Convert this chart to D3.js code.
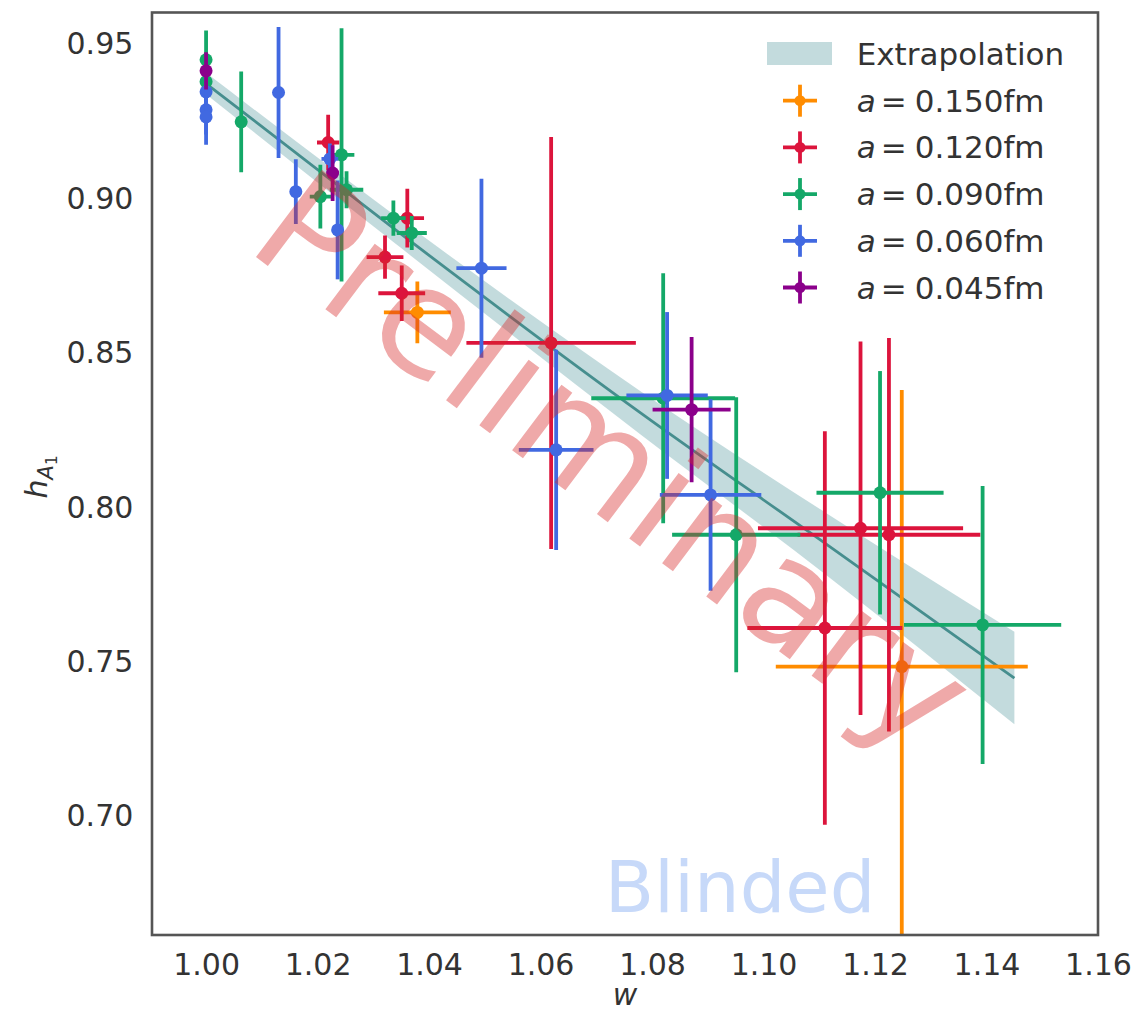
<!DOCTYPE html>
<html>
<head>
<meta charset="utf-8">
<script src="https://cdn.jsdelivr.net/npm/d3@7"></script>
<style>
  html, body { margin: 0; padding: 0; background: #fff; }
  svg { display: block; font-family: "DejaVu Sans", sans-serif; }
</style>
</head>
<body>
<svg id="chart" width="1140" height="1017"></svg>
<script>
// ---------------- data ----------------
const xTicks = [1.00, 1.02, 1.04, 1.06, 1.08, 1.10, 1.12, 1.14, 1.16];
const yTicks = [0.70, 0.75, 0.80, 0.85, 0.90, 0.95];

// continuum extrapolation: central curve and its uncertainty band
const fitW    = [1.000, 1.034, 1.078, 1.111, 1.145];
const fitMid  = [0.9368, 0.8894, 0.8301, 0.7880, 0.7443];
const fitLow  = [0.9333, 0.8849, 0.8231, 0.7780, 0.7293];
const fitHigh = [0.9403, 0.8939, 0.8371, 0.7980, 0.7593];

const spacingLabels = ["0.150", "0.120", "0.090", "0.060", "0.045"];

// a = 0.150 fm
const w150  = [1.0379, 1.1248];
const h150  = [0.8627, 0.7480];
const dw150 = [0.0060, 0.0226];
const dh150 = [0.0100, 0.0896];

// a = 0.120 fm
const w120  = [1.0219, 1.0361, 1.0321, 1.0351, 1.0619, 1.1110, 1.1174, 1.1225];
const h120  = [0.9177, 0.8932, 0.8806, 0.8689, 0.8528, 0.7605, 0.7928, 0.7907];
const dw120 = [0.0020, 0.0030, 0.0033, 0.0042, 0.0152, 0.0139, 0.0184, 0.0164];
const dh120 = [0.0090, 0.0095, 0.0070, 0.0090, 0.0667, 0.0637, 0.0605, 0.0637];

// a = 0.090 fm
const w090  = [1.0000, 1.0000, 1.0063, 1.0205, 1.0243, 1.0252, 1.0336, 1.0369, 1.0820, 1.0951, 1.1209, 1.1393];
const h090  = [0.9445, 0.9374, 0.9244, 0.9002, 0.9137, 0.9024, 0.8932, 0.8884, 0.8349, 0.7907, 0.8043, 0.7615];
const dw090 = [0.0000, 0.0000, 0.0000, 0.0019, 0.0023, 0.0030, 0.0022, 0.0027, 0.0129, 0.0115, 0.0114, 0.0141];
const dh090 = [0.0095, 0.0070, 0.0163, 0.0103, 0.0410, 0.0060, 0.0057, 0.0055, 0.0405, 0.0445, 0.0394, 0.0450];

// a = 0.060 fm
const w060  = [1.0000, 1.0000, 1.0000, 1.0130, 1.0161, 1.0222, 1.0236, 1.0494, 1.0628, 1.0827, 1.0905];
const h060  = [0.9341, 0.9283, 0.9260, 0.9339, 0.9018, 0.9124, 0.8894, 0.8770, 0.8182, 0.8358, 0.8036];
const dw060 = [0.0000, 0.0000, 0.0000, 0.0000, 0.0000, 0.0015, 0.0000, 0.0045, 0.0067, 0.0073, 0.0091];
const dh060 = [0.0070, 0.0080, 0.0090, 0.0212, 0.0105, 0.0050, 0.0160, 0.0290, 0.0324, 0.0270, 0.0310];

// a = 0.045 fm
const w045  = [1.0000, 1.0227, 1.0871];
const h045  = [0.9409, 0.9078, 0.8312];
const dw045 = [0.0000, 0.0000, 0.0070];
const dh045 = [0.0060, 0.0090, 0.0235];

// ---------------- layout & style ----------------
const plot = { left: 152, right: 1098, top: 12.5, bottom: 935 };
const colors = ["#ff8c00", "#dc143c", "#14a868", "#4169e1", "#8b008b"];
const bandColor = "#7ab0b4";
const lineColor = "#468e8e";
const textColor = "#333333";

const series = [
  { w: w150, h: h150, dw: dw150, dh: dh150 },
  { w: w120, h: h120, dw: dw120, dh: dh120 },
  { w: w090, h: h090, dw: dw090, dh: dh090 },
  { w: w060, h: h060, dw: dw060, dh: dh060 },
  { w: w045, h: h045, dw: dw045, dh: dh045 }
].map((s, i) => ({
  color: colors[i],
  label: spacingLabels[i],
  points: s.w.map((w, j) => ({ w, h: s.h[j], dw: s.dw[j], dh: s.dh[j] }))
}));

const svg = d3.select("#chart");

const x = d3.scaleLinear().domain([0.9903, 1.16]).range([plot.left, plot.right]);
const y = d3.scaleLinear().domain([0.6611, 0.9598]).range([plot.bottom, plot.top]);

svg.append("defs").append("clipPath").attr("id", "plotClip")
  .append("rect")
  .attr("x", plot.left).attr("y", plot.top)
  .attr("width", plot.right - plot.left).attr("height", plot.bottom - plot.top);

const body = svg.append("g").attr("clip-path", "url(#plotClip)");

// extrapolation band + central line
const fitRows = fitW.map((w, i) => ({ w, mid: fitMid[i], lo: fitLow[i], hi: fitHigh[i] }));
body.append("path")
  .datum(fitRows)
  .attr("d", d3.area().curve(d3.curveMonotoneX)
    .x(d => x(d.w)).y0(d => y(d.lo)).y1(d => y(d.hi)))
  .attr("fill", bandColor).attr("fill-opacity", 0.45);

body.append("path")
  .datum(fitRows)
  .attr("d", d3.line().curve(d3.curveMonotoneX).x(d => x(d.w)).y(d => y(d.mid)))
  .attr("fill", "none").attr("stroke", lineColor).attr("stroke-width", 2.8);

// error bars, one series after another
series.forEach(s => {
  const g = body.append("g");
  const bars = g.selectAll("g.pt").data(s.points).join("g").attr("class", "pt");
  bars.filter(d => d.dw > 0).append("line")
    .attr("x1", d => x(d.w - d.dw)).attr("x2", d => x(d.w + d.dw))
    .attr("y1", d => y(d.h)).attr("y2", d => y(d.h))
    .attr("stroke", s.color).attr("stroke-width", 3.8);
  bars.append("line")
    .attr("x1", d => x(d.w)).attr("x2", d => x(d.w))
    .attr("y1", d => y(d.h - d.dh)).attr("y2", d => y(d.h + d.dh))
    .attr("stroke", s.color).attr("stroke-width", 3.8);
  bars.append("circle")
    .attr("cx", d => x(d.w)).attr("cy", d => y(d.h)).attr("r", 6.5)
    .attr("fill", s.color);
});

// frame
svg.append("rect")
  .attr("x", plot.left).attr("y", plot.top)
  .attr("width", plot.right - plot.left).attr("height", plot.bottom - plot.top)
  .attr("fill", "none").attr("stroke", "#555").attr("stroke-width", 2.6);

// axes (labels only, no tick marks)
const xAxis = svg.append("g")
  .attr("transform", `translate(0,${plot.bottom})`)
  .call(d3.axisBottom(x).tickValues(xTicks).tickSize(0).tickPadding(18.7).tickFormat(d3.format(".2f")));
const yAxis = svg.append("g")
  .attr("transform", `translate(${plot.left},0)`)
  .call(d3.axisLeft(y).tickValues(yTicks).tickSize(0).tickPadding(18.7).tickFormat(d3.format(".2f")));
[xAxis, yAxis].forEach(a => {
  a.select(".domain").remove();
  a.selectAll("text")
    .attr("font-family", "DejaVu Sans").attr("font-size", 30).attr("fill", textColor);
});
yAxis.selectAll("text").attr("dy", "0.37em");

// axis titles
svg.append("text")
  .attr("x", (plot.left + plot.right) / 2).attr("y", 1005)
  .attr("text-anchor", "middle")
  .attr("font-size", 30).attr("font-style", "italic").attr("fill", textColor)
  .text("w");

const yl = svg.append("text")
  .attr("transform", "translate(47,477) rotate(-90)")
  .attr("text-anchor", "middle")
  .attr("font-style", "italic").attr("fill", textColor);
yl.append("tspan").attr("font-size", 30).text("h");
yl.append("tspan").attr("font-size", 21).attr("dy", 6).text("A");
yl.append("tspan").attr("font-size", 15).attr("font-style", "normal").attr("dy", 4).text("1");

// legend
const legend = svg.append("g");
const rowBase = 65, rowStep = 46.7, textX = 856.7, markX = 800;
legend.append("rect")
  .attr("x", 767).attr("y", 42).attr("width", 65).attr("height", 23)
  .attr("fill", bandColor).attr("fill-opacity", 0.45);
legend.append("text")
  .attr("x", textX).attr("y", rowBase)
  .attr("font-size", 31).attr("fill", textColor)
  .text("Extrapolation");

series.forEach((s, i) => {
  const by = rowBase + rowStep * (i + 1);
  const cy = by - 11;
  legend.append("line").attr("x1", markX - 17).attr("x2", markX + 17)
    .attr("y1", cy).attr("y2", cy).attr("stroke", s.color).attr("stroke-width", 3.8);
  legend.append("line").attr("x1", markX).attr("x2", markX)
    .attr("y1", cy - 16).attr("y2", cy + 16).attr("stroke", s.color).attr("stroke-width", 3.8);
  legend.append("circle").attr("cx", markX).attr("cy", cy).attr("r", 5.5).attr("fill", s.color);

  const t = legend.append("text").attr("y", by).attr("font-size", 31).attr("fill", textColor);
  t.append("tspan").attr("x", textX).attr("font-style", "italic").text("a");
  t.append("tspan").attr("x", textX + 24).text("=");
  t.append("tspan").attr("x", textX + 58).text(s.label + "fm");
});

// watermarks
svg.append("text")
  .attr("x", 740).attr("y", 912)
  .attr("text-anchor", "middle")
  .attr("font-size", 72)
  .attr("fill", "#6495ed").attr("fill-opacity", 0.36)
  .text("Blinded");

svg.append("text")
  .attr("transform", "translate(606,472) rotate(37)")
  .attr("text-anchor", "middle").attr("dy", "0.26em")
  .attr("font-size", 150)
  .attr("fill", "#d62728").attr("fill-opacity", 0.4)
  .text("Preliminary");
</script>
</body>
</html>
